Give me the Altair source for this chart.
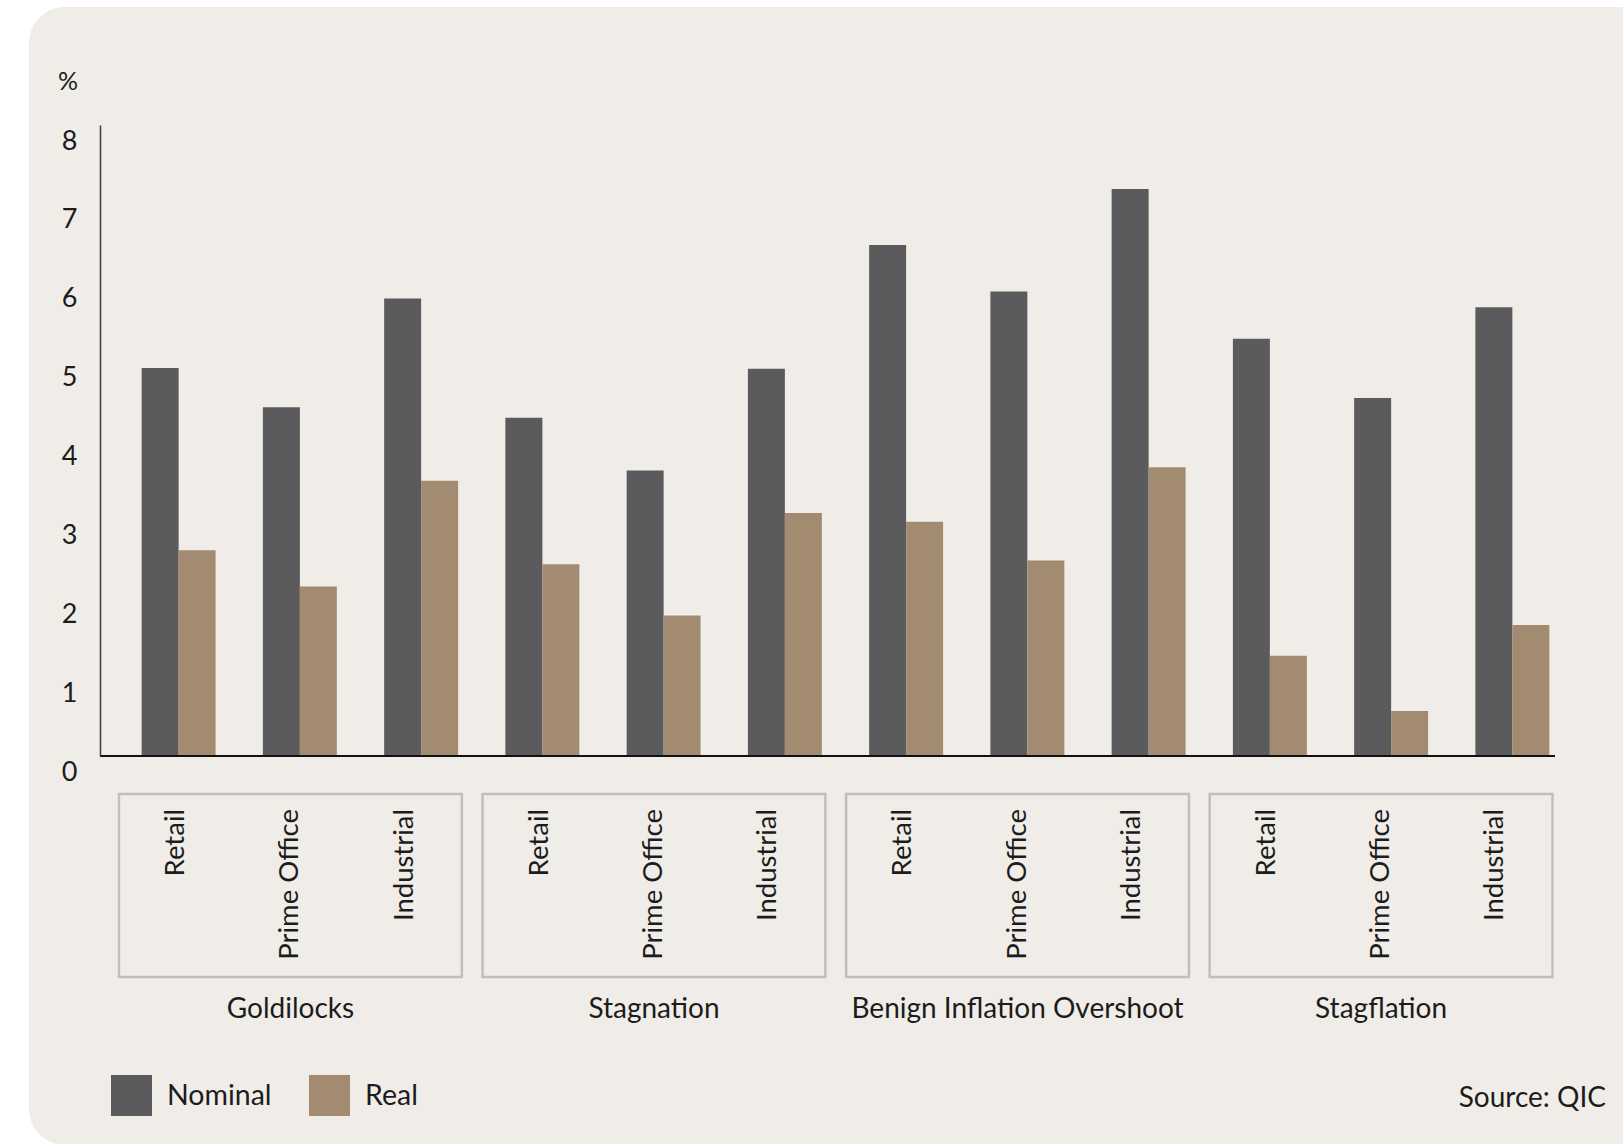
import altair as alt
import pandas as pd

# Scenarios, sectors and expected returns (% p.a.)
scenarios = ["Goldilocks", "Stagnation", "Benign Inflation Overshoot", "Stagflation"]
sectors = ["Retail", "Prime Office", "Industrial"]
nominal = [4.92, 4.42, 5.80, 4.29, 3.62, 4.91, 6.48, 5.89, 7.19, 5.29, 4.54, 5.69]
real = [2.61, 2.15, 3.49, 2.43, 1.78, 3.08, 2.97, 2.48, 3.66, 1.27, 0.57, 1.66]
series_names = ["Nominal", "Real"]
series_colors = ["#5b5b5d", "#a38b72"]
y_ticks = [0, 1, 2, 3, 4, 5, 6, 7, 8]

FONT = "Lato"
TEXT = "#1c1c1c"
PANEL = "#f0ede8"

rows = []
keys = []
i = 0
for g in scenarios:
    for s in sectors:
        key = f"{g}|{s}"
        keys.append(key)
        rows.append({"key": key, "scenario": g, "sector": s, "series": "Nominal", "value": nominal[i]})
        rows.append({"key": key, "scenario": g, "sector": s, "series": "Real", "value": real[i]})
        i += 1
bars_df = pd.DataFrame(rows)
cells_df = pd.DataFrame([{"scenario": g, "sector": s} for g in scenarios for s in sectors])
groups_df = pd.DataFrame({"scenario": scenarios})

W, H = 1455, 631

# rounded panel behind everything
panel = alt.Chart(groups_df.head(1)).mark_rect(
    color=PANEL, cornerRadius=36
).encode(
    x=alt.value(-89), x2=alt.value(1600), y=alt.value(-118), y2=alt.value(1020)
)

y_enc = alt.Y(
    "value:Q",
    scale=alt.Scale(domain=[0, 8], nice=False),
    axis=alt.Axis(
        values=y_ticks, format="d", grid=False, ticks=False, title=None, zindex=1,
        domainColor="#3a3a3a", domainWidth=1.5, offset=18,
        labelFont=FONT, labelFontSize=27, labelColor=TEXT,
        labelPadding=23, labelOffset=16, labelFlush=False, labelOverlap=False,
    ),
)

bars = alt.Chart(bars_df).mark_bar().encode(
    x=alt.X("key:N", sort=keys, axis=None,
            scale=alt.Scale(paddingInner=0.39, paddingOuter=0.195)),
    xOffset=alt.XOffset("series:N", sort=series_names,
                        scale=alt.Scale(paddingInner=0, paddingOuter=0)),
    y=y_enc,
    color=alt.Color(
        "series:N", sort=series_names,
        scale=alt.Scale(domain=series_names, range=series_colors),
        legend=alt.Legend(
            title=None, orient="none", legendX=-7, legendY=950, direction="horizontal",
            symbolType="square", symbolSize=1681, symbolStrokeWidth=0,
            labelFont=FONT, labelFontSize=28.5, labelColor=TEXT, labelOffset=15,
            columnPadding=37, padding=0,
        ),
    ),
)

baseline = alt.Chart(groups_df.head(1)).mark_rule(color="#111111", strokeWidth=2).encode(
    x=alt.value(-18), x2=alt.value(1437), y=alt.datum(0)
)

box_scale = alt.Scale(type="band", range=[1, 1434.5], paddingInner=0.057, paddingOuter=0)
third_scale = alt.Scale(type="band", paddingInner=0, paddingOuter=0)

boxes = alt.Chart(groups_df).mark_rect(
    fill=PANEL, fillOpacity=0, stroke="#c2bfbb", strokeWidth=2.5
).encode(
    x=alt.X("scenario:N", sort=scenarios, axis=None, scale=box_scale),
    y=alt.value(669), y2=alt.value(852),
)

sector_labels = alt.Chart(cells_df).mark_text(
    angle=270, align="right", baseline="middle", font=FONT, fontSize=27.5, color=TEXT
).encode(
    x=alt.X("scenario:N", sort=scenarios, axis=None, scale=box_scale),
    xOffset=alt.XOffset("sector:N", sort=sectors, scale=third_scale),
    y=alt.value(684),
    text="sector:N",
)

scenario_labels = alt.Chart(groups_df).mark_text(
    align="center", baseline="middle", font=FONT, fontSize=28, color=TEXT
).encode(
    x=alt.X("scenario:N", sort=scenarios, axis=None, scale=box_scale),
    y=alt.value(885),
    text="scenario:N",
)

unit = alt.Chart(groups_df.head(1)).mark_text(
    text="%", align="center", baseline="middle", font=FONT, fontSize=25, color=TEXT
).encode(x=alt.value(-50), y=alt.value(-43))

source = alt.Chart(groups_df.head(1)).mark_text(
    text="Source: QIC", align="right", baseline="middle", font=FONT, fontSize=28, color=TEXT
).encode(x=alt.value(1488), y=alt.value(974))

chart = alt.layer(
    panel, bars, baseline, boxes, sector_labels, scenario_labels, unit, source
).resolve_scale(
    x="independent", xOffset="independent"
).properties(
    width=W, height=H,
    padding={"left": 118, "top": 125, "right": 50, "bottom": 388},
    autosize=alt.AutoSizeParams(type="none"),
    background="white",
).configure_view(stroke=None)

chart.save("out.html", embed_options={"renderer": "svg", "actions": False})
